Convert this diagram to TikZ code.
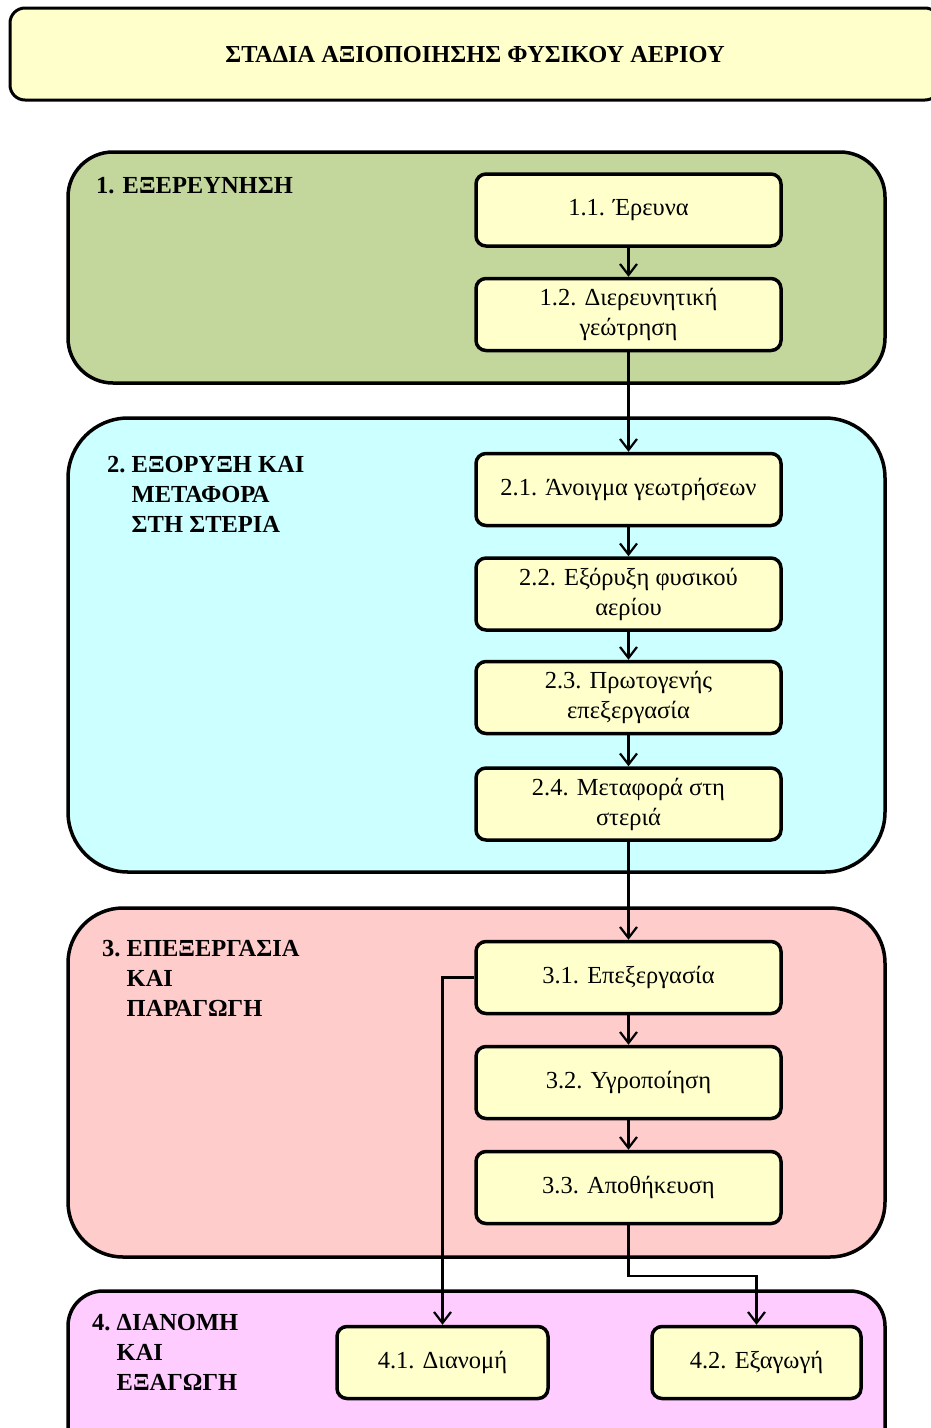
\documentclass[tikz,border=0pt]{standalone}
\usepackage{fontspec}
\setmainfont{Liberation Serif}
\usetikzlibrary{arrows.meta}
\definecolor{boxy}{HTML}{FFFFCC}
\definecolor{gone}{HTML}{C3D69B}
\definecolor{gtwo}{HTML}{CCFFFF}
\definecolor{gthree}{HTML}{FFCCCC}
\definecolor{gfour}{HTML}{FFCCFF}
\begin{document}
\begin{tikzpicture}[x=1pt,y=-1pt,
  grp/.style={draw, line width=3.5pt, rounded corners=45pt, inner sep=0pt},
  stepbox/.style={draw, line width=3.5pt, rounded corners=10pt, fill=boxy, inner sep=0pt,
     minimum width=305pt, minimum height=72pt, align=center,
     font=\fontsize{24.5}{30}\selectfont},
  glabel/.style={anchor=base west, inner sep=0pt, align=left,
     font=\fontsize{24.5}{30}\selectfont\bfseries},
  arr/.style={line width=2.2pt, -{Straight Barb[length=11pt,width=17pt,line width=2.2pt]}}
]
\useasboundingbox (0,0) rectangle (931,1428);
\clip (0,0) rectangle (931,1428);
% title
\node[draw, line width=3pt, rounded corners=15pt, fill=boxy, minimum width=930pt, minimum height=92pt, inner sep=0pt] (title) at (475,54) {};
\node[inner sep=0pt, font=\fontsize{24.4}{28}\selectfont\bfseries] (ttext) at (475,55) {ΣΤΑΔΙΑ ΑΞΙΟΠΟΙΗΣΗΣ ΦΥΣΙΚΟΥ ΑΕΡΙΟΥ};
% groups
\node[grp, fill=gone, minimum width=817pt, minimum height=231pt] (G1) at (476.5,267.5) {};
\node[grp, fill=gtwo, minimum width=817pt, minimum height=454pt, rounded corners=60pt] (G2) at (476.5,645) {};
\node[grp, fill=gthree, minimum width=817pt, minimum height=349pt, rounded corners=55pt] (G3) at (476.5,1082.5) {};
\node[grp, fill=gfour, minimum width=817pt, minimum height=200pt, rounded corners=35pt] (G4) at (476.5,1391) {};
% labels
\node[glabel] (L1) at (96,193) {1. ΕΞΕΡΕΥΝΗΣΗ};
\node[glabel] (L2) at (107,472) {2.~\begin{tabular}[t]{@{}l@{}}ΕΞΟΡΥΞΗ ΚΑΙ\\ΜΕΤΑΦΟΡΑ\\ΣΤΗ ΣΤΕΡΙΑ\end{tabular}};
\node[glabel] (L3) at (102,956) {3.~\begin{tabular}[t]{@{}l@{}}ΕΠΕΞΕΡΓΑΣΙΑ\\ΚΑΙ\\ΠΑΡΑΓΩΓΗ\end{tabular}};
\node[glabel] (L4) at (92,1330) {4.~\begin{tabular}[t]{@{}l@{}}ΔΙΑΝΟΜΗ\\ΚΑΙ\\ΕΞΑΓΩΓΗ\end{tabular}};
% steps
\node[stepbox] (s11) at (628.5,210) {1.1. Έρευνα};
\node[stepbox] (s12) at (628.5,314.5) {1.2. Διερευνητική\\γεώτρηση};
\node[stepbox] (s21) at (628.5,489.5) {2.1. Άνοιγμα γεωτρήσεων};
\node[stepbox] (s22) at (628.5,594) {2.2. Εξόρυξη φυσικού\\αερίου};
\node[stepbox] (s23) at (628.5,697.5) {2.3. Πρωτογενής\\επεξεργασία};
\node[stepbox] (s24) at (628.5,804) {2.4. Μεταφορά στη\\στεριά};
\node[stepbox] (s31) at (628.5,977.5) {3.1. Επεξεργασία};
\node[stepbox] (s32) at (628.5,1082.5) {3.2. Υγροποίηση};
\node[stepbox] (s33) at (628.5,1187.5) {3.3. Αποθήκευση};
\node[stepbox, minimum width=211pt] (s41) at (442.5,1362.5) {4.1. Διανομή};
\node[stepbox, minimum width=209pt] (s42) at (756.5,1362.5) {4.2. Εξαγωγή};
% arrows
\draw[arr] (s11) -- (s12);
\draw[arr] (s12) -- (s21);
\draw[arr] (s21) -- (s22);
\draw[arr] (s22) -- (s23);
\draw[arr] (s23) -- (s24);
\draw[arr] (s24) -- (s31);
\draw[arr] (s31) -- (s32);
\draw[arr] (s32) -- (s33);
\draw[arr] (s31.west) -| (s41.north);
\coordinate (bend) at (628.5,1276);
\draw[arr] (s33.south) -- (bend) -| (s42.north);
\end{tikzpicture}
\end{document}
